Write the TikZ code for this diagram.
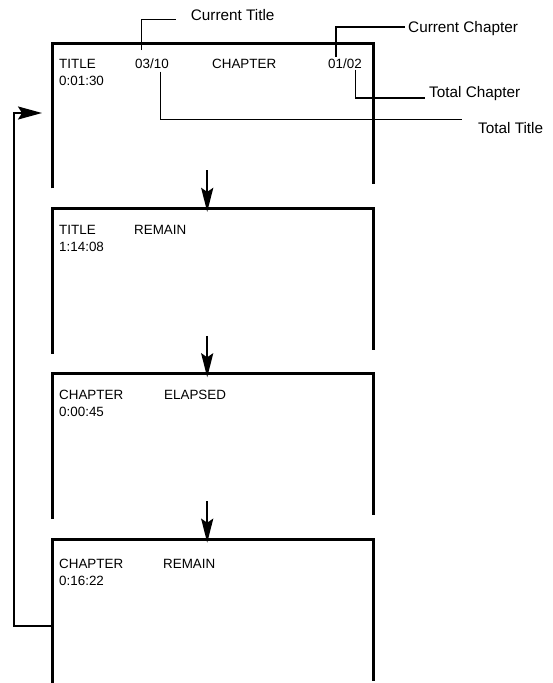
\documentclass[tikz,border=0pt]{standalone}
\usepackage{fontspec}
\setmainfont{Liberation Sans}
\usetikzlibrary{arrows.meta, positioning}
\tikzset{
  scrn/.style={rectangle, inner sep=0pt, minimum width=321pt, minimum height=145pt},
  osd/.style={inner sep=0pt, anchor=base west, font=\fontsize{13.4}{16}\selectfont},
  lbl/.style={inner sep=0pt, anchor=base west, font=\fontsize{15.3}{18}\selectfont},
}

\begin{document}
\begin{tikzpicture}[x=1pt, y=-1pt,
    frameline/.style={line width=3pt},
    callout/.style={line width=1.2pt},
    arr/.style={-{Stealth[length=24pt, width=12pt, inset=4pt]}, line width=2.4pt},
    looparr/.style={-{Stealth[length=24pt, width=13pt, inset=4pt]}, line width=2pt},
    node distance=20pt
  ]
  \useasboundingbox (0,0) rectangle (552,683);
  % the four screens, open at the bottom
  \node[scrn, anchor=north west] (f1) at (52,43) {};
  \node[scrn, below=of f1] (f2) {};
  \node[scrn, below=of f2] (f3) {};
  \node[scrn, below=of f3] (f4) {};
  \foreach \f in {f1,f2,f3,f4}
    \draw[frameline] (\f.south west) |- (\f.north east) -- ([yshift=4pt]\f.south east);

  % screen 1
  \node[osd] (title1) at ([xshift=7pt,yshift=-25pt]f1.north west) {TITLE};
  \node[osd] (time1) at ([yshift=-17pt]title1.base west) {0:01:30};
  \node[osd] (tnum) at ([xshift=83pt,yshift=-25pt]f1.north west) {03/10};
  \node[osd] (chap1) at ([xshift=160pt,yshift=-25pt]f1.north west) {CHAPTER};
  \node[osd] (cnum) at ([xshift=276pt,yshift=-25pt]f1.north west) {01/02};
  % screen 2
  \node[osd] (title2) at ([xshift=7pt,yshift=-26pt]f2.north west) {TITLE};
  \node[osd] (time2) at ([yshift=-17pt]title2.base west) {1:14:08};
  \node[osd] (mode2) at ([xshift=82pt,yshift=-26pt]f2.north west) {REMAIN};
  % screen 3
  \node[osd] (chap3) at ([xshift=7pt,yshift=-26pt]f3.north west) {CHAPTER};
  \node[osd] (time3) at ([yshift=-17pt]chap3.base west) {0:00:45};
  \node[osd] (mode3) at ([xshift=112pt,yshift=-26pt]f3.north west) {ELAPSED};
  % screen 4
  \node[osd] (chap4) at ([xshift=7pt,yshift=-29pt]f4.north west) {CHAPTER};
  \node[osd] (time4) at ([yshift=-17pt]chap4.base west) {0:16:22};
  \node[osd] (mode4) at ([xshift=111pt,yshift=-29pt]f4.north west) {REMAIN};

  % callout labels
  \node[lbl] (lblct) at (190.7,20.5) {Current Title};
  \node[lbl] (lblcc) at (408,32.5) {Current Chapter};
  \node[lbl] (lbltc) at (429,97.5) {Total Chapter};
  \node[lbl] (lbltt) at (478,133.5) {Total Title};
  \draw[callout] ([xshift=6.7pt,yshift=8pt]tnum.north west) |- ([xshift=-14.7pt,yshift=1.2pt]lblct.base west);
  \draw[callout] ([xshift=8pt,yshift=1pt]cnum.north west) |- ([xshift=-3pt,yshift=5.5pt]lblcc.base west);
  \draw[callout] ([xshift=27.7pt,yshift=-1.2pt]cnum.south west) |- ([xshift=-4pt,yshift=-0.5pt]lbltc.base west);
  \draw[callout] ([xshift=25.7pt,yshift=-3.2pt]tnum.south west) |- ([xshift=-16pt,yshift=14.2pt]lbltt.base west);

  % step arrows and return loop
  \foreach \a/\b in {f1/f2,f2/f3,f3/f4}
    \draw[arr] ([xshift=-5.5pt,yshift=18pt]\a.south) -- ([xshift=-5.5pt,yshift=-3.5pt]\b.north);
  \draw[looparr] ([yshift=-87pt]f4.north west) -- ++(-38pt,0) |- ([xshift=-10pt,yshift=-70pt]f1.north west);
\end{tikzpicture}
\end{document}
